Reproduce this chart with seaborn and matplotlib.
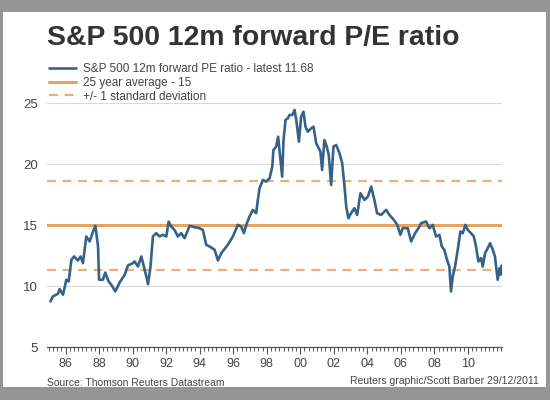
import matplotlib
matplotlib.use("Agg")
import matplotlib.pyplot as plt
from matplotlib.patches import Rectangle
from matplotlib.ticker import MultipleLocator, FixedLocator
import seaborn as sns
import pandas as pd

sns.set_style("white")
plt.rcParams['font.family'] = ['Liberation Sans', 'DejaVu Sans']

# values (decimal year, forward P/E)
years = [1985.10, 1985.25, 1985.55, 1985.65, 1985.85, 1986.05, 1986.19, 1986.35,
         1986.51, 1986.74, 1986.90, 1987.04, 1987.24, 1987.44, 1987.64, 1987.78,
         1987.94, 1988.00, 1988.23, 1988.37, 1988.57, 1988.73, 1988.97, 1989.23,
         1989.53, 1989.72, 1990.02, 1990.12, 1990.32, 1990.52, 1990.72, 1990.82,
         1990.92, 1991.07, 1991.21, 1991.41, 1991.61, 1991.81, 1992.01, 1992.15,
         1992.31, 1992.50, 1992.70, 1992.90, 1993.10, 1993.40, 1993.70, 1993.99,
         1994.19, 1994.39, 1994.59, 1994.89, 1995.09, 1995.29, 1995.68, 1995.98,
         1996.28, 1996.48, 1996.64, 1996.78, 1996.97, 1997.17, 1997.37, 1997.47,
         1997.57, 1997.77, 1997.97, 1998.17, 1998.33, 1998.40, 1998.56, 1998.68,
         1998.76, 1998.92, 1999.00, 1999.12, 1999.26, 1999.36, 1999.52, 1999.66,
         1999.76, 1999.92, 2000.05, 2000.19, 2000.31, 2000.45, 2000.65, 2000.79,
         2000.95, 2001.20, 2001.30, 2001.44, 2001.58, 2001.70, 2001.84, 2001.98,
         2002.14, 2002.34, 2002.50, 2002.64,
         2002.74, 2002.87, 2003.03, 2003.23, 2003.39, 2003.59, 2003.83, 2004.03,
         2004.23, 2004.42, 2004.58, 2004.82, 2005.12, 2005.32, 2005.58, 2005.78,
         2005.97, 2006.11, 2006.41, 2006.61, 2006.85, 2007.11,
         2007.20, 2007.50, 2007.70, 2007.90, 2008.10, 2008.30, 2008.44, 2008.59,
         2008.75, 2008.89, 2008.99, 2009.09, 2009.23, 2009.39, 2009.55, 2009.69,
         2009.85, 2009.99, 2010.18, 2010.35, 2010.48, 2010.62, 2010.78, 2010.88,
         2011.02, 2011.18, 2011.32, 2011.48, 2011.61, 2011.77, 2011.89, 2011.96,
         2012.00]
pe = [8.74, 9.15, 9.37, 9.75, 9.29, 10.52, 10.38, 12.16,
      12.43, 12.10, 12.43, 11.88, 14.07, 13.66, 14.48, 14.94,
      13.25, 10.52, 10.52, 11.11, 10.38, 10.11, 9.56, 10.30,
      10.93, 11.69, 11.88, 12.02, 11.61, 12.43, 11.34, 10.79,
      10.16, 11.61, 14.07, 14.34, 14.07, 14.21, 14.07, 15.29,
      14.88, 14.61, 14.07, 14.34, 13.93, 14.94, 14.83, 14.75,
      14.61, 13.39, 13.25, 12.98, 12.10, 12.70, 13.39, 14.07,
      15.03, 14.88, 14.34, 15.03, 15.70, 16.25, 15.98, 17.07,
      18.03, 18.71, 18.57, 18.85, 19.80, 21.17, 21.44, 22.26,
      21.17, 18.98, 21.99, 23.63, 23.77, 24.04, 24.04, 24.45,
      23.63, 21.85, 23.90, 24.31, 23.08, 22.67, 22.95, 23.08,
      21.72, 21.03, 19.53, 21.99, 21.44, 20.76, 18.30, 21.44,
      21.58, 20.90, 20.08, 18.16,
      16.52, 15.57, 15.98, 16.39, 15.84, 17.62, 17.07, 17.34,
      18.16, 17.07, 15.98, 15.84, 16.25, 15.84, 15.43, 15.03,
      14.21, 14.75, 14.75, 13.66, 14.34, 14.88,
      15.16, 15.30, 14.75, 15.02, 14.07, 14.20, 13.25, 12.98,
      12.16, 11.60, 9.56, 10.79, 11.60, 12.98, 14.48, 14.34,
      15.02, 14.61, 14.34, 14.07, 13.25, 12.02, 12.30, 11.60,
      12.70, 13.11, 13.52, 12.98, 12.43, 10.52, 11.48, 10.93,
      11.68]

average = 15.0
std_dev = 3.65
tick_years = list(range(1986, 2011, 2))
tick_labels = [str(y)[2:] for y in tick_years]

blue = '#35628b'
orange = '#e8a262'
orange_light = '#ebb07a'
text_grey = '#444444'

df = pd.DataFrame({'year': years, 'pe': pe})

fig = plt.figure(figsize=(5.5, 4.0), dpi=100, facecolor='#959595')
fig.patches.append(Rectangle((3 / 550, 1 - 387 / 400), 543 / 550, 375 / 400,
                             transform=fig.transFigure, facecolor='white',
                             edgecolor='none', zorder=-5))

ax = fig.add_axes([47.4 / 550, 1 - 347 / 400, (502 - 47.4) / 550, (347 - 103.3) / 400])
ax.set_facecolor('none')

for g in [10, 20, 25]:
    ax.axhline(g, color='#d9d9d9', lw=0.8, zorder=1)

h_avg = ax.axhline(average, color=orange, lw=2.2, zorder=2)
h_sd = ax.axhline(average + std_dev, color=orange_light, lw=1.6, dashes=(4, 3), zorder=2)
ax.axhline(average - std_dev, color=orange_light, lw=1.6, dashes=(4, 3), zorder=2)

sns.lineplot(data=df, x='year', y='pe', ax=ax, color=blue, lw=1.9, zorder=3)
h_pe = ax.get_lines()[-1]

ax.set_xlim(1984.92, 2012.03)
ax.set_ylim(5, 25)
ax.set_xlabel('')
ax.set_ylabel('')

for s in ['top', 'left', 'right']:
    ax.spines[s].set_visible(False)
ax.spines['bottom'].set_color('#555555')
ax.spines['bottom'].set_linewidth(0.9)

ax.xaxis.set_major_locator(FixedLocator(tick_years))
ax.set_xticklabels(tick_labels)
ax.xaxis.set_minor_locator(MultipleLocator(0.25))
ax.tick_params(axis='x', which='major', direction='out', length=5, width=0.8,
               color='#555555', labelsize=9, labelcolor=text_grey, pad=3, bottom=True)
ax.tick_params(axis='x', which='minor', direction='out', length=3, width=0.7,
               color='#555555', bottom=True)
ax.set_yticks([5, 10, 15, 20, 25])
ax.tick_params(axis='y', length=0, labelsize=9.5, labelcolor=text_grey, pad=7)

fig.text(47 / 550, 1 - 45.5 / 400, 'S&P 500 12m forward P/E ratio', fontsize=20.4,
         fontweight='bold', color='#333333', ha='left', va='baseline')

fig.legend([h_pe, h_avg, h_sd],
           ['S&P 500 12m forward PE ratio - latest 11.68',
            '25 year average - 15',
            '+/- 1 standard deviation'],
           loc='upper left', bbox_to_anchor=(49 / 550, 1 - 63 / 400),
           frameon=False, fontsize=8.5, handlelength=2.3, handletextpad=0.6,
           labelspacing=0.15, borderpad=0, borderaxespad=0, labelcolor=text_grey)

fig.text(47 / 550, 1 - 383 / 400, 'Source: Thomson Reuters Datastream', fontsize=7.5,
         color=text_grey, ha='left', va='center')
fig.text(539 / 550, 1 - 381 / 400, 'Reuters graphic/Scott Barber 29/12/2011', fontsize=7.5,
         color=text_grey, ha='right', va='center')

fig.savefig('out.png', dpi=100, facecolor=fig.get_facecolor())
